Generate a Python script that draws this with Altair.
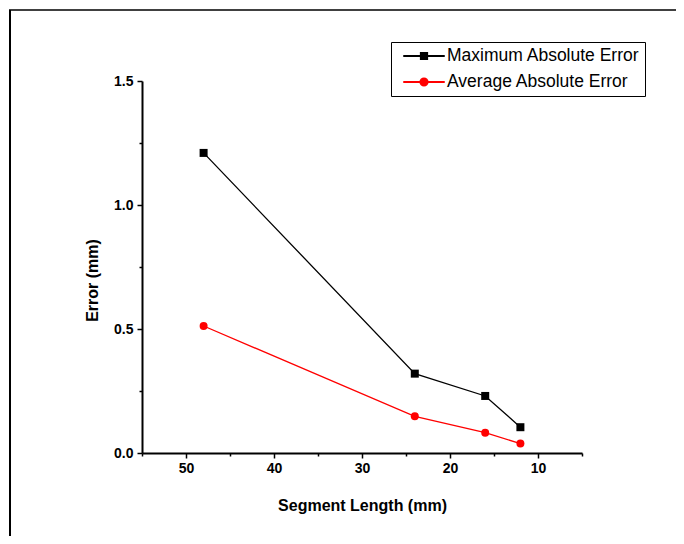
import altair as alt
import pandas as pd

segment_length = [48, 24, 16, 12]
max_abs_error = [1.21, 0.32, 0.23, 0.104]
avg_abs_error = [0.512, 0.148, 0.082, 0.038]
series_names = ["Maximum Absolute Error", "Average Absolute Error"]
series_colors = ["#000000", "#ff0000"]
x_major = [50, 40, 30, 20, 10]
x_minor = [55, 45, 35, 25, 15, 5]
y_major = [0, 0.5, 1.0, 1.5]
y_minor = [0.25, 0.75, 1.25]

rows = []
for name, vals in zip(series_names, [max_abs_error, avg_abs_error]):
    for x, v in zip(segment_length, vals):
        rows.append({"seg": x, "err": v, "series": name})
df = pd.DataFrame(rows)

# legend symbols: thin bar (the line) + marker, as one path
sq_leg = "M-2.5,-0.03H2.5V0.03H-2.5Z M-0.42,-0.42H0.42V0.42H-0.42Z"
ci_leg = "M-2.5,-0.03H2.5V0.03H-2.5Z M0.48,0A0.48,0.48,0,1,1,-0.48,0A0.48,0.48,0,1,1,0.48,0Z"

FONT = "Liberation Sans"
x_scale = alt.Scale(domain=[5, 55], reverse=True, nice=False, zero=False)
y_scale = alt.Scale(domain=[0, 1.5], nice=False)
color_scale = alt.Scale(domain=series_names, range=series_colors)

x_main = alt.X(
    "seg:Q",
    scale=x_scale,
    axis=alt.Axis(values=x_major, orient="bottom", title="Segment Length (mm)", tickSize=5,
                  labelPadding=3, titleBaseline="alphabetic", titleY=57),
)
y_main = alt.Y(
    "err:Q",
    scale=y_scale,
    axis=alt.Axis(values=y_major, orient="left", format=".1f", title="Error (mm)", tickSize=5,
                  labelPadding=4, titleBaseline="alphabetic", titleX=-45, titleY=199),
)
x_plain = alt.X("seg:Q", scale=x_scale, axis=None)
y_plain = alt.Y("err:Q", scale=y_scale, axis=None)

legend_def = alt.Legend(
    title=None,
    orient="none",
    legendX=249,
    legendY=-39,
    padding=5,
    strokeColor="black",
    fillColor="white",
    labelFont=FONT,
    labelFontSize=17.5,
    labelColor="black",
    labelLimit=400,
    rowPadding=8,
    symbolSize=256,
    symbolOpacity=1,
    symbolOffset=19,
    labelOffset=14,
)

lines = alt.Chart(df).mark_line(strokeWidth=1.3).encode(
    x=x_main,
    y=y_main,
    color=alt.Color("series:N", scale=color_scale, legend=legend_def),
)

pts_max = alt.Chart(df).transform_filter(alt.datum.series == series_names[0]).mark_point(
    shape="square", size=64, filled=True, opacity=1
).encode(x=x_plain, y=y_plain, color=alt.Color("series:N", scale=color_scale, legend=None))

pts_avg = alt.Chart(df).transform_filter(alt.datum.series == series_names[1]).mark_point(
    shape="circle", size=64, filled=True, opacity=1
).encode(x=x_plain, y=y_plain, color=alt.Color("series:N", scale=color_scale, legend=None))

legend_layer = alt.Chart(df).mark_point(filled=True, opacity=0).encode(
    x=x_plain,
    y=y_plain,
    color=alt.Color("series:N", scale=color_scale, legend=legend_def),
    shape=alt.Shape("series:N", scale=alt.Scale(domain=series_names, range=[sq_leg, ci_leg]), legend=None),
)

minor = alt.Chart(df).mark_point(opacity=0).encode(
    x=alt.X("seg:Q", scale=x_scale, axis=alt.Axis(values=x_minor, orient="bottom", labels=False,
                                                   domain=False, tickSize=3, title=None)),
    y=alt.Y("err:Q", scale=y_scale, axis=alt.Axis(values=y_minor, orient="left", labels=False,
                                                   domain=False, tickSize=3, title=None)),
)

one = pd.DataFrame({"a": [0]})
frame_top = alt.Chart(one).mark_rule(color="black", strokeWidth=1.5).encode(
    x=alt.value(-133), x2=alt.value(534), y=alt.value(-71), y2=alt.value(-71)
)
frame_left = alt.Chart(one).mark_rule(color="black", strokeWidth=2).encode(
    x=alt.value(-132), x2=alt.value(-132), y=alt.value(-71), y2=alt.value(455)
)

chart = (
    alt.layer(frame_top, frame_left, minor, lines, pts_max, pts_avg, legend_layer)
    .resolve_axis(x="independent", y="independent")
    .properties(
        width=440,
        height=372,
        autosize=alt.AutoSizeParams(type="none"),
        padding={"left": 134, "top": 73, "right": 94, "bottom": 83},
        background="white",
    )
    .configure_view(stroke=None)
    .configure_axis(
        grid=False, domainColor="black", domainWidth=2, tickColor="black", tickWidth=1.5,
        labelFont=FONT, labelFontSize=14, labelFontWeight="bold", labelColor="black",
        titleFont=FONT, titleFontSize=16, titleFontWeight="bold", titleColor="black",
    )
)

chart.save("out.html", embed_options={"renderer": "svg", "actions": False})
